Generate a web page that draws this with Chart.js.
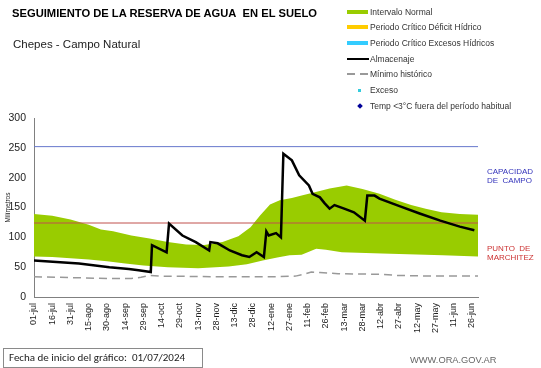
<!DOCTYPE html>
<html>
<head>
<meta charset="utf-8">
<script src="https://cdn.jsdelivr.net/npm/chart.js@4.4.1/dist/chart.umd.min.js"></script>
<style>
  body { margin: 0; background: #fff; font-family: Arial, "Liberation Sans", sans-serif; }
  #wrap { position: relative; width: 541px; height: 368px; overflow: hidden; }
  #chart { position: absolute; left: 0; top: 0; }
  .txt { position: absolute; white-space: nowrap; }
  #title { left: 12px; top: 7px; font-size: 11.2px; font-weight: bold; color: #000; }
  #sub { left: 13px; top: 38px; font-size: 11.5px; color: #222; }
  .leg { position: absolute; left: 347px; font-size: 8.5px; color: #333; white-space: nowrap; height: 10px; line-height: 10px; }
  .leg span.sym { position: absolute; left: 0; top: 0; width: 22px; height: 10px; }
  .leg span.lbl { position: absolute; left: 23px; top: 0; }
  #ybox { left: 3px; top: 348px; width: 200px; height: 20px; border: 1px solid #8a8a8a; font-family: Calibri, Carlito, "Open Sans", sans-serif; font-size: 11px; color: #222; line-height: 18px; padding-left: 5px; box-sizing: border-box; }
  #url { left: 410px; top: 355px; font-size: 9.3px; color: #666; }
  .rlab { position: absolute; left: 487px; font-size: 8px; line-height: 9px; }
</style>
</head>
<body>
<div id="wrap">
  <canvas id="chart" width="541" height="368"></canvas>
  <div class="txt" id="title">SEGUIMIENTO DE LA RESERVA DE AGUA&nbsp; EN EL SUELO</div>
  <div class="txt" id="sub">Chepes - Campo Natural</div>

  <div class="leg" style="top:7px"><span class="sym"><i style="position:absolute;left:0;top:3px;width:21px;height:4px;background:#99cc00"></i></span><span class="lbl">Intervalo Normal</span></div>
  <div class="leg" style="top:22px"><span class="sym"><i style="position:absolute;left:0;top:3px;width:21px;height:4px;background:#ffcc00"></i></span><span class="lbl">Periodo Crítico Déficit Hídrico</span></div>
  <div class="leg" style="top:38px"><span class="sym"><i style="position:absolute;left:0;top:3px;width:21px;height:4px;background:#33ccff"></i></span><span class="lbl">Periodo Crítico Excesos Hídricos</span></div>
  <div class="leg" style="top:54px"><span class="sym"><i style="position:absolute;left:0;top:4px;width:22px;height:2px;background:#000"></i></span><span class="lbl">Almacenaje</span></div>
  <div class="leg" style="top:69px"><span class="sym"><i style="position:absolute;left:0;top:4px;width:8px;height:1.5px;background:#999"></i><i style="position:absolute;left:13px;top:4px;width:8px;height:1.5px;background:#999"></i></span><span class="lbl">Mínimo histórico</span></div>
  <div class="leg" style="top:85px"><span class="sym"><i style="position:absolute;left:11px;top:4px;width:3px;height:3px;background:#33ccdd"></i></span><span class="lbl">Exceso</span></div>
  <div class="leg" style="top:101px"><span class="sym"><i style="position:absolute;left:11px;top:3px;width:4px;height:4px;background:#000099;transform:rotate(45deg)"></i></span><span class="lbl">Temp &lt;3°C fuera del período habitual</span></div>

  <div class="rlab" style="top:167px;color:#3333bb">CAPACIDAD<br>DE&nbsp; CAMPO</div>
  <div class="rlab" style="top:244px;color:#cc3333">PUNTO&nbsp; DE<br>MARCHITEZ</div>

  <div class="txt" id="ybox">Fecha de inicio del gráfico:&nbsp;&nbsp;01/07/2024</div>
  <div class="txt" id="url">WWW.ORA.GOV.AR</div>
</div>
<script>
// tick labels every 15 days starting 01-jul
const tickLabels = ["01-jul", "16-jul", "31-jul", "15-ago", "30-ago", "14-sep", "29-sep", "14-oct",
  "29-oct", "13-nov", "28-nov", "13-dic", "28-dic", "12-ene", "27-ene", "11-feb", "26-feb", "13-mar",
  "28-mar", "12-abr", "27-abr", "12-may", "27-may", "11-jun", "26-jun"];

// intervalo normal (upper / lower edge), days since 01-jul
const upperDays = [0, 15, 30, 45, 55, 65, 80, 95, 110, 125, 140, 155, 168, 178, 186, 194, 202, 212, 220, 230, 243, 257, 270, 284, 297, 310, 322, 335, 350, 365];
const upperVals = [139, 136, 130, 121, 113, 110, 103, 98, 92, 88, 87, 92, 102, 117, 137, 155, 162, 166, 170, 175, 182, 187, 181, 173, 163, 154, 148, 142, 139, 138];
const lowerDays = [0, 15, 30, 45, 60, 75, 90, 110, 135, 160, 175, 188, 200, 210, 220, 226, 232, 240, 253, 286, 336, 365];
const lowerVals = [68, 67, 65, 63, 60, 56, 53, 50, 48, 51, 55, 61, 66, 70, 71, 76, 81, 79, 75, 73, 70, 68];

// almacenaje
const almDays = [0, 37, 62, 78, 86, 96, 97, 109, 111, 122, 133, 144, 145, 151, 161, 171, 177, 183, 189, 191, 193, 199, 203, 205, 212, 218, 226, 229, 235, 239, 243, 247, 255, 263, 272, 274, 280, 284, 301, 317, 334, 350, 362];
const almVals = [61, 56, 50, 47, 45, 42, 87, 75, 123, 103, 92, 78, 92, 90, 78, 70, 67, 75, 67, 110, 103, 107, 100, 240, 229, 204, 187, 173, 167, 157, 148, 154, 148, 142, 128, 170, 170, 165, 152, 140, 128, 118, 112];

// minimo historico
const minDays = [0, 20, 40, 60, 80, 88, 95, 105, 150, 180, 200, 215, 222, 228, 235, 250, 285, 300, 330, 365];
const minVals = [34, 33, 32, 31, 31, 33, 36, 35, 34, 34, 34, 35, 38, 42, 41, 39, 38, 36, 35, 35];

const capacidad = 252;
const marchitez = 124;

const pts = (xs, ys) => xs.map((x, i) => ({ x: x, y: ys[i] }));

new Chart(document.getElementById("chart"), {
  type: "line",
  data: {
    datasets: [
      { data: pts(upperDays, upperVals), borderWidth: 0, pointRadius: 0, backgroundColor: "#99cc00", fill: "+1", order: 5 },
      { data: pts(lowerDays, lowerVals), borderWidth: 0, pointRadius: 0, fill: false, order: 5 },
      { data: pts([0, 365], [capacidad, capacidad]), borderColor: "#6677cc", borderWidth: 1, pointRadius: 0, order: 3 },
      { data: pts([0, 365], [marchitez, marchitez]), borderColor: "#c0504d", borderWidth: 1, pointRadius: 0, order: 3 },
      { data: pts(minDays, minVals), borderColor: "#999999", borderWidth: 1.5, borderDash: [8, 5], pointRadius: 0, order: 2 },
      { data: pts(almDays, almVals), borderColor: "#000000", borderWidth: 2.5, pointRadius: 0, order: 1 }
    ]
  },
  options: {
    responsive: false,
    animation: false,
    layout: { padding: { left: 0, top: 118, right: 63, bottom: 0 } },
    plugins: { legend: { display: false }, tooltip: { enabled: false } },
    elements: { line: { tension: 0 } },
    scales: {
      x: {
        type: "linear",
        min: 0,
        max: 365,
        afterFit: s => { s.height = 71; },
        afterBuildTicks: s => { s.ticks = tickLabels.map((l, i) => ({ value: i * 15 })); },
        grid: { display: false, drawTicks: true, tickLength: 4, tickColor: "#808080" },
        border: { color: "#808080", width: 1 },
        ticks: {
          autoSkip: false,
          minRotation: 90,
          maxRotation: 90,
          padding: 2,
          color: "#222",
          font: { family: "Arial, 'Liberation Sans'", size: 9 },
          callback: v => tickLabels[Math.round(v / 15)]
        }
      },
      y: {
        min: 0,
        max: 300,
        afterFit: s => { s.width = 34; },
        grid: { display: false, drawTicks: true, tickLength: 4, tickColor: "#808080" },
        border: { color: "#808080", width: 1 },
        ticks: { stepSize: 50, padding: 4, color: "#222", font: { family: "Arial, 'Liberation Sans'", size: 10.5 } },
        title: { display: true, text: "Milímetros", padding: { top: 4, bottom: 0 }, color: "#222", font: { family: "Arial, 'Liberation Sans'", size: 6.5 } }
      }
    }
  }
});
</script>
</body>
</html>
